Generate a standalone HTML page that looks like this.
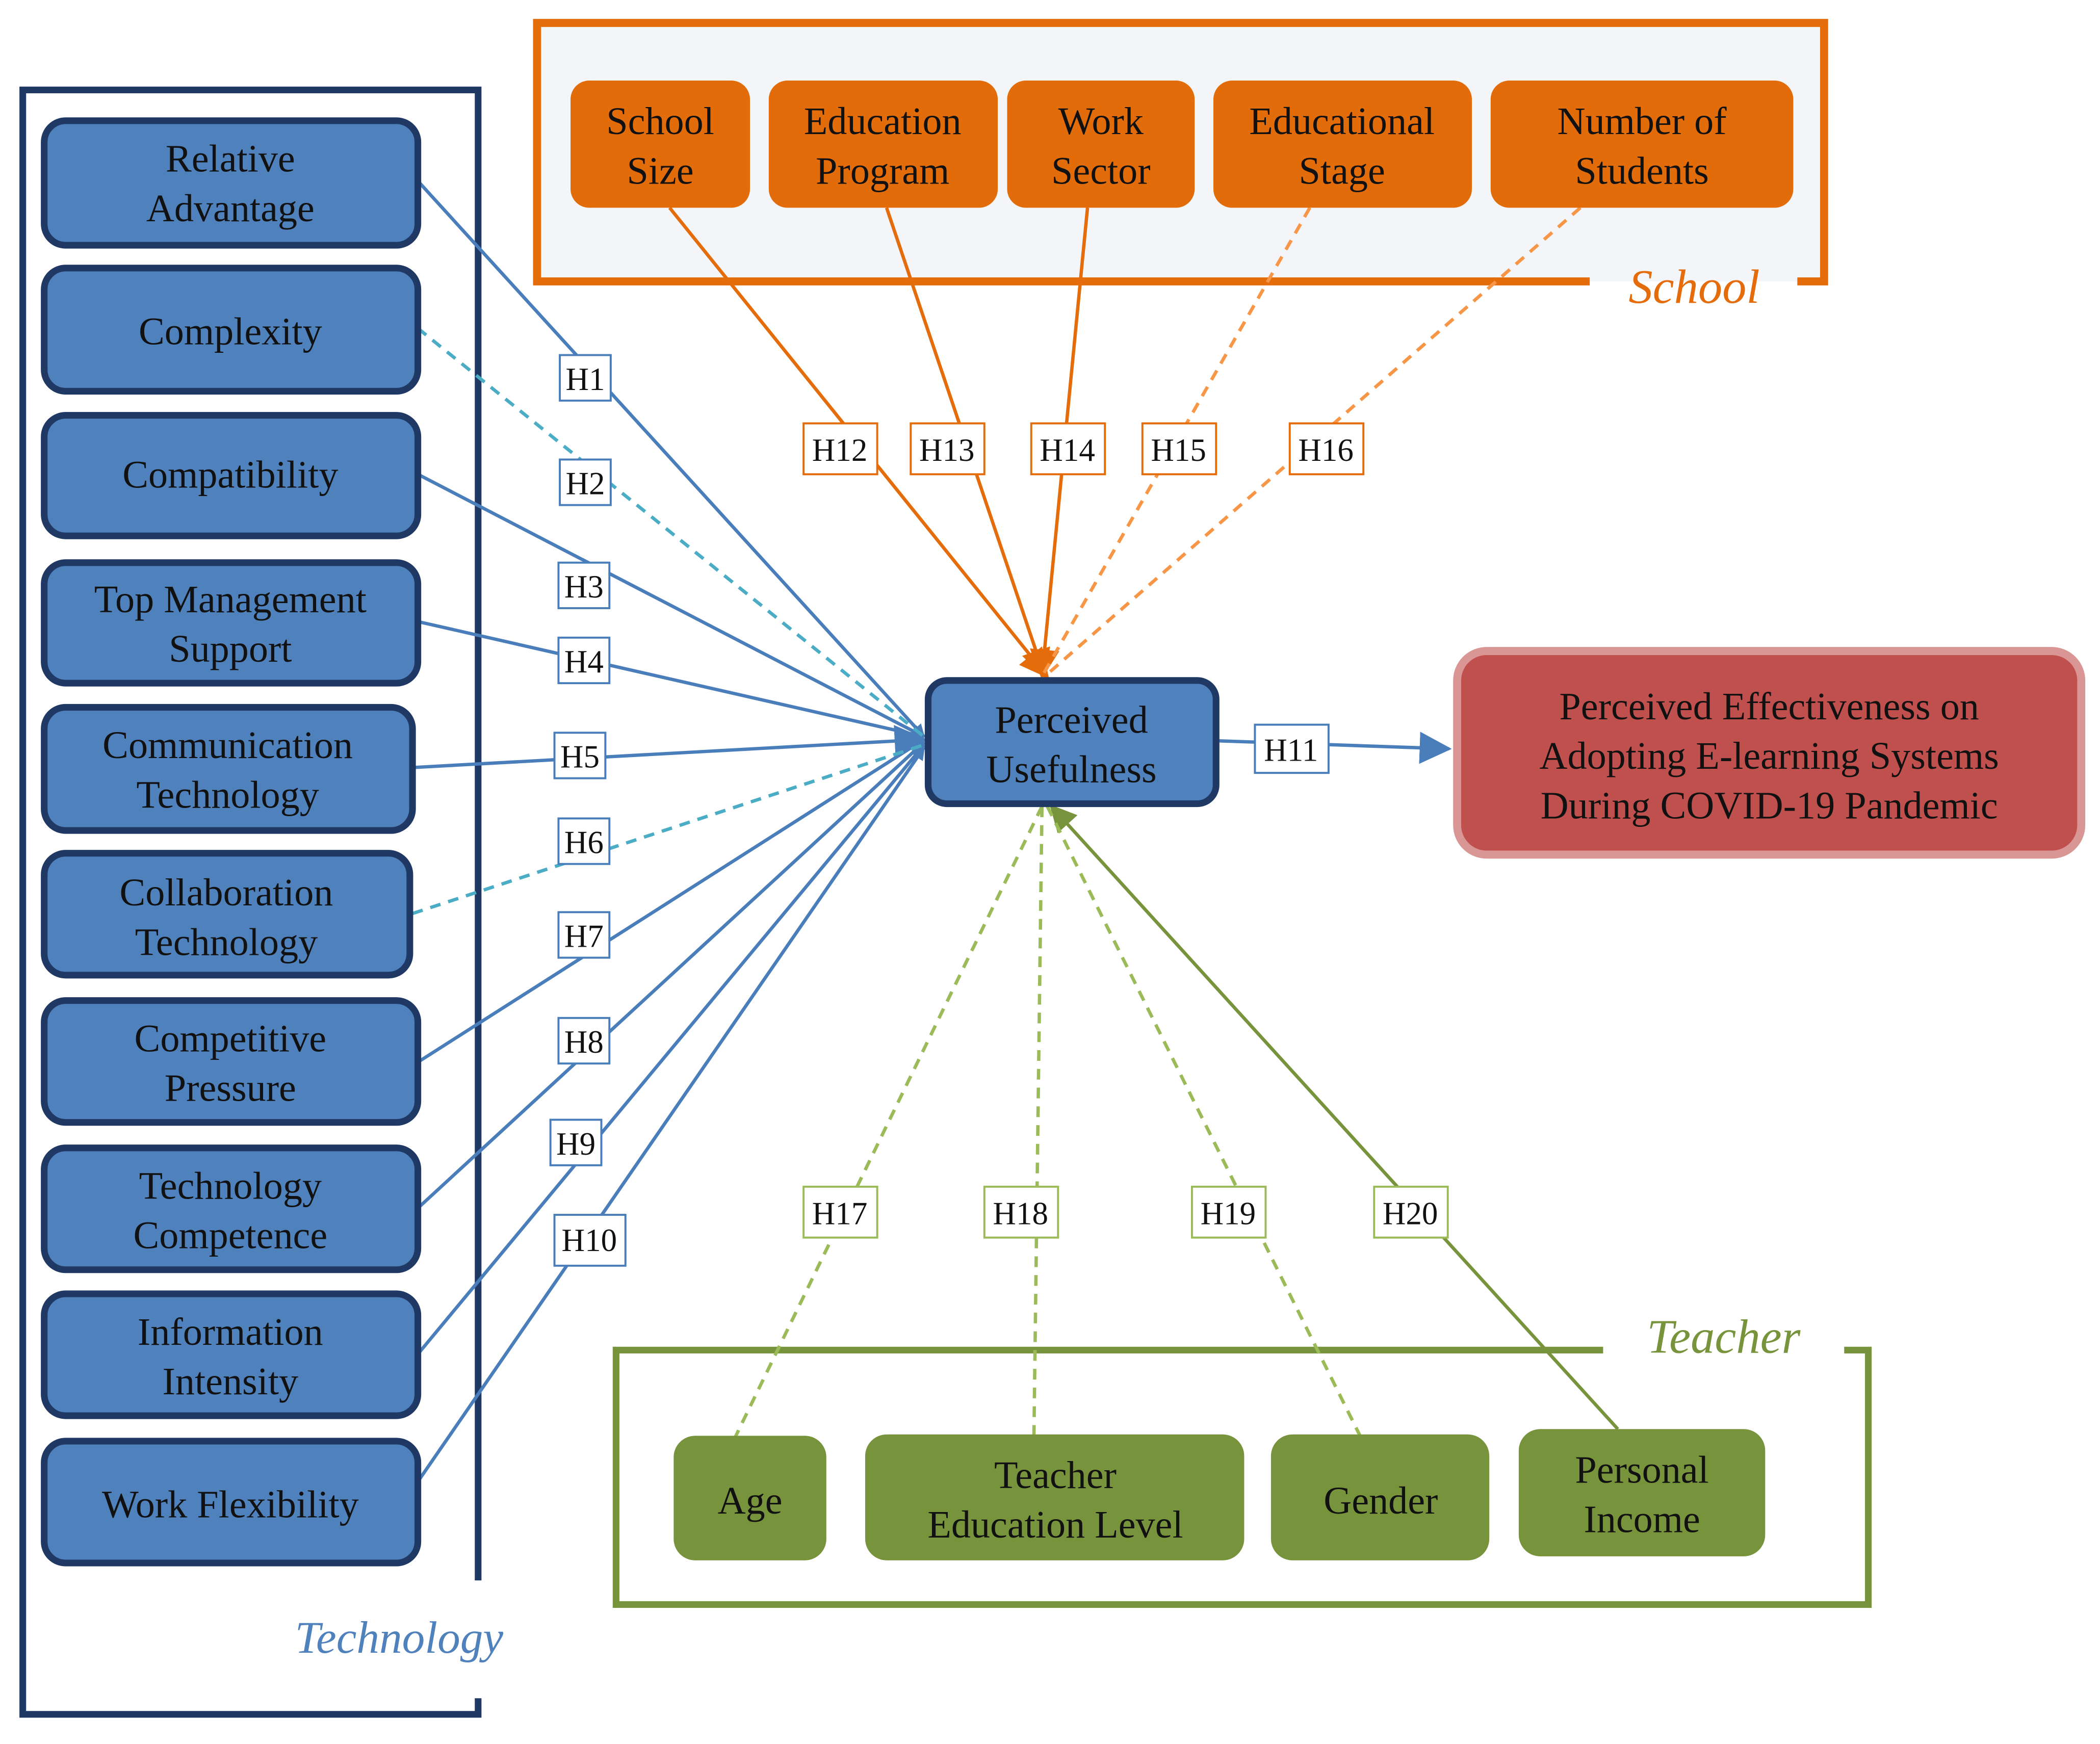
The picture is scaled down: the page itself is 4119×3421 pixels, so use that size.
<!DOCTYPE html>
<html><head><meta charset="utf-8"><style>
html,body{margin:0;padding:0;background:#fff;}
svg{display:block;}
text{font-family:"Liberation Serif",serif;}
.h{font-family:"Liberation Sans",sans-serif;font-size:24px;}
</style></head><body>
<svg width="4119" height="3421" viewBox="0 0 1568 1302" xmlns="http://www.w3.org/2000/svg">
<defs>
<marker id="ab" markerWidth="10" markerHeight="10" refX="9" refY="5" orient="auto" markerUnits="userSpaceOnUse"><path d="M0,0 L10,5 L0,10z" fill="#4a7ebb"/></marker>
<marker id="ab2" markerWidth="24" markerHeight="24" refX="22" refY="12" orient="auto" markerUnits="userSpaceOnUse"><path d="M0,0 L24,12 L0,24z" fill="#4a7ebb"/></marker>
<marker id="ao" markerWidth="22" markerHeight="22" refX="20" refY="11" orient="auto" markerUnits="userSpaceOnUse"><path d="M0,0 L22,11 L0,22z" fill="#e46c0a"/></marker>
<marker id="ag" markerWidth="20" markerHeight="20" refX="18" refY="10" orient="auto" markerUnits="userSpaceOnUse"><path d="M0,0 L20,10 L0,20z" fill="#77933c"/></marker>
</defs>
<!-- Technology frame -->
<path d="M357,1180 L357,67 L17,67 L17,1280 L357,1280 L357,1268" fill="none" stroke="#1f3864" stroke-width="5"/>
<text x="298" y="1234" font-size="34" font-style="italic" fill="#4f81bd" text-anchor="middle">Technology</text>
<!-- School frame -->
<rect x="401" y="17" width="961" height="193" fill="#f3f5f9" stroke="none"/>
<path d="M1187,210 L401,210 L401,17 L1362,17 L1362,210 L1342,210" fill="none" stroke="#e46c0a" stroke-width="6"/>
<text x="1265" y="226" font-size="36" font-style="italic" fill="#e46c0a" text-anchor="middle">School</text>
<!-- Teacher frame -->
<path d="M1197,1008 L460,1008 L460,1198 L1395,1198 L1395,1008 L1377,1008" fill="none" stroke="#77933c" stroke-width="5"/>
<text x="1287" y="1010" font-size="36" font-style="italic" fill="#77933c" text-anchor="middle">Teacher</text>

<!-- blue lines -->
<g stroke="#4a7ebb" stroke-width="2.5" fill="none">
<line x1="312" y1="135" x2="690" y2="550" marker-end="url(#ab)"/>
<line x1="312" y1="354" x2="690" y2="550" marker-end="url(#ab)"/>
<line x1="312" y1="464" x2="690" y2="550" marker-end="url(#ab)"/>
<line x1="308" y1="573" x2="690" y2="552" marker-end="url(#ab2)"/>
<line x1="312" y1="793" x2="690" y2="552" marker-end="url(#ab)"/>
<line x1="312" y1="902" x2="690" y2="554" marker-end="url(#ab)"/>
<line x1="312" y1="1011" x2="690" y2="556" marker-end="url(#ab)"/>
<line x1="308" y1="1112" x2="690" y2="558" marker-end="url(#ab)"/>
<line x1="908" y1="553" x2="1082" y2="559" marker-end="url(#ab2)"/>
</g>
<g stroke="#4bacc6" stroke-width="2.5" fill="none" stroke-dasharray="8,6">
<line x1="312" y1="245" x2="690" y2="550"/>
<line x1="308" y1="682" x2="690" y2="556"/>
</g>
<!-- orange lines -->
<g stroke="#e46c0a" stroke-width="2.5" fill="none">
<line x1="500" y1="155" x2="782" y2="505" marker-end="url(#ao)"/>
<line x1="662" y1="155" x2="780" y2="505" marker-end="url(#ao)"/>
<line x1="812" y1="155" x2="778" y2="505" marker-end="url(#ao)"/>
</g>
<g stroke="#f79646" stroke-width="2.5" fill="none" stroke-dasharray="8,6">
<line x1="978" y1="155" x2="778" y2="505"/>
<line x1="1180" y1="155" x2="780" y2="505"/>
</g>
<!-- green lines -->
<g stroke="#77933c" stroke-width="2.5" fill="none">
<line x1="1208" y1="1067" x2="785" y2="602" marker-end="url(#ag)"/>
</g>
<g stroke="#9bbb59" stroke-width="2.5" fill="none" stroke-dasharray="8,6">
<line x1="548" y1="1075" x2="778" y2="602"/>
<line x1="772" y1="1072" x2="778" y2="602"/>
<line x1="1016" y1="1073" x2="782" y2="602"/>
</g>

<!-- left boxes -->
<g fill="#4f81bd" stroke="#1f3864" stroke-width="5">
<rect x="33" y="90" width="279" height="93" rx="16"/>
<rect x="33" y="200" width="279" height="92" rx="16"/>
<rect x="33" y="310" width="279" height="90" rx="16"/>
<rect x="33" y="420" width="279" height="90" rx="16"/>
<rect x="33" y="528" width="275" height="92" rx="16"/>
<rect x="33" y="637" width="273" height="91" rx="16"/>
<rect x="33" y="747" width="279" height="91" rx="16"/>
<rect x="33" y="857" width="279" height="91" rx="16"/>
<rect x="33" y="966" width="279" height="91" rx="16"/>
<rect x="33" y="1076" width="279" height="91" rx="16"/>
<rect x="693" y="508" width="215" height="92" rx="14"/>
</g>
<g font-size="29" fill="#111" text-anchor="middle">
<text x="172" y="128">Relative</text><text x="172" y="165">Advantage</text>
<text x="172" y="257">Complexity</text>
<text x="172" y="364">Compatibility</text>
<text x="172" y="457">Top Management</text><text x="172" y="494">Support</text>
<text x="170" y="566">Communication</text><text x="170" y="603">Technology</text>
<text x="169" y="676">Collaboration</text><text x="169" y="713">Technology</text>
<text x="172" y="785">Competitive</text><text x="172" y="822">Pressure</text>
<text x="172" y="895">Technology</text><text x="172" y="932">Competence</text>
<text x="172" y="1004">Information</text><text x="172" y="1041">Intensity</text>
<text x="172" y="1133">Work Flexibility</text>
<text x="800" y="547">Perceived</text><text x="800" y="584">Usefulness</text>
</g>
<!-- orange boxes -->
<g fill="#e36c0a">
<rect x="426" y="60" width="134" height="95" rx="14"/>
<rect x="574" y="60" width="171" height="95" rx="14"/>
<rect x="752" y="60" width="140" height="95" rx="14"/>
<rect x="906" y="60" width="193" height="95" rx="14"/>
<rect x="1113" y="60" width="226" height="95" rx="14"/>
</g>
<g font-size="29" fill="#111" text-anchor="middle">
<text x="493" y="100">School</text><text x="493" y="137">Size</text>
<text x="659" y="100">Education</text><text x="659" y="137">Program</text>
<text x="822" y="100">Work</text><text x="822" y="137">Sector</text>
<text x="1002" y="100">Educational</text><text x="1002" y="137">Stage</text>
<text x="1226" y="100">Number of</text><text x="1226" y="137">Students</text>
</g>
<!-- red box -->
<rect x="1088" y="486" width="466" height="152" rx="22" fill="#c0504d" stroke="#d99694" stroke-width="6"/>
<g font-size="29" fill="#111" text-anchor="middle">
<text x="1321" y="537">Perceived Effectiveness on</text>
<text x="1321" y="574">Adopting E-learning Systems</text>
<text x="1321" y="611">During COVID-19 Pandemic</text>
</g>
<!-- green boxes -->
<g fill="#77933c">
<rect x="503" y="1072" width="114" height="93" rx="16"/>
<rect x="646" y="1071" width="283" height="94" rx="16"/>
<rect x="949" y="1071" width="163" height="94" rx="16"/>
<rect x="1134" y="1067" width="184" height="95" rx="16"/>
</g>
<g font-size="29" fill="#111" text-anchor="middle">
<text x="560" y="1130">Age</text>
<text x="788" y="1111">Teacher</text><text x="788" y="1148">Education Level</text>
<text x="1031" y="1130">Gender</text>
<text x="1226" y="1107">Personal</text><text x="1226" y="1144">Income</text>
</g>
<!-- H labels -->
<g class="h" fill="#111" text-anchor="middle">
<g fill="#fff" stroke="#4a7ebb" stroke-width="1.5">
<rect x="418" y="265" width="38" height="34"/><rect x="418" y="343" width="38" height="34"/>
<rect x="417" y="420" width="38" height="34"/><rect x="417" y="476" width="38" height="34"/>
<rect x="414" y="547" width="38" height="34"/><rect x="417" y="611" width="38" height="34"/>
<rect x="417" y="681" width="38" height="34"/><rect x="417" y="760" width="38" height="34"/>
<rect x="411" y="836" width="38" height="34"/><rect x="414" y="907" width="53" height="38"/>
<rect x="937" y="541" width="55" height="36"/>
</g>
<g fill="#fff" stroke="#e46c0a" stroke-width="1.5">
<rect x="600" y="316" width="55" height="38"/><rect x="680" y="316" width="55" height="38"/>
<rect x="770" y="316" width="55" height="38"/><rect x="853" y="316" width="55" height="38"/>
<rect x="963" y="316" width="55" height="38"/>
</g>
<g fill="#fff" stroke="#9bbb59" stroke-width="1.5">
<rect x="600" y="886" width="55" height="38"/><rect x="735" y="886" width="55" height="38"/>
<rect x="890" y="886" width="55" height="38"/><rect x="1026" y="886" width="55" height="38"/>
</g>
<text x="437" y="291">H1</text><text x="437" y="369">H2</text><text x="436" y="446">H3</text>
<text x="436" y="502">H4</text><text x="433" y="573">H5</text><text x="436" y="637">H6</text>
<text x="436" y="707">H7</text><text x="436" y="786">H8</text><text x="430" y="862">H9</text>
<text x="440" y="934">H10</text><text x="964" y="568">H11</text>
<text x="627" y="344">H12</text><text x="707" y="344">H13</text><text x="797" y="344">H14</text>
<text x="880" y="344">H15</text><text x="990" y="344">H16</text>
<text x="627" y="914">H17</text><text x="762" y="914">H18</text><text x="917" y="914">H19</text><text x="1053" y="914">H20</text>
</g>
</svg>
</body></html>
